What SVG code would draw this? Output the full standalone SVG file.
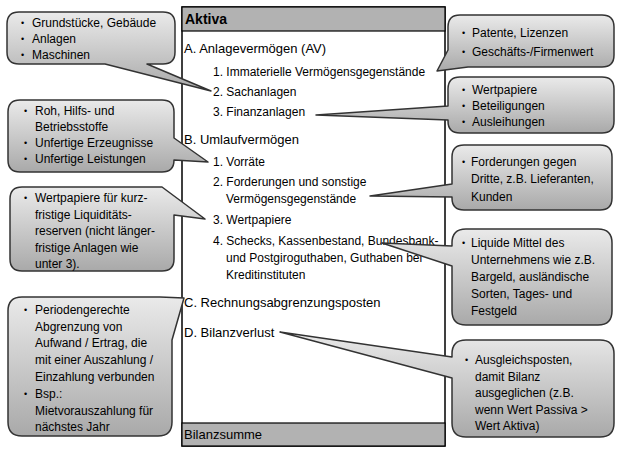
<svg xmlns="http://www.w3.org/2000/svg" width="620" height="450" viewBox="0 0 620 450">
<defs>
<linearGradient id="g" x1="0" y1="0" x2="0" y2="1">
<stop offset="0" stop-color="#eaeaea"/>
<stop offset="1" stop-color="#a9a9a9"/>
</linearGradient>
<style>
text{font-family:"Liberation Sans",Arial,sans-serif;fill:#000}
.t{font-size:12px}
.h{font-size:13px}
.b{font-size:9px}
.co{fill:url(#g);stroke:#333;stroke-width:1.5;stroke-linejoin:round}
.bar{fill:#b2b2b2;stroke:#000;stroke-width:1.2}
</style>
</defs>
<rect width="620" height="450" fill="#fff"/>
<g id="aktiva">
<rect x="182" y="7" width="263" height="439" fill="#fff" stroke="#000" stroke-width="1.5"/>
<rect class="bar" x="182" y="7" width="263" height="24"/>
<rect class="bar" x="182" y="423" width="263" height="23"/>
<text x="185" y="24" style="font-size:14px;font-weight:bold">Aktiva</text>
<text class="h" x="184" y="53">A. Anlagevermögen (AV)</text>
<text class="t" x="213" y="76">1. Immaterielle Vermögensgegenstände</text>
<text class="t" x="213" y="96">2. Sachanlagen</text>
<text class="t" x="213" y="116">3. Finanzanlagen</text>
<text class="h" x="184" y="144">B. Umlaufvermögen</text>
<text class="t" x="213" y="166">1. Vorräte</text>
<text class="t" x="213" y="186">2. Forderungen und sonstige</text>
<text class="t" x="226" y="203">Vermögensgegenstände</text>
<text class="t" x="213" y="224">3. Wertpapiere</text>
<text class="t" x="213" y="245">4. Schecks, Kassenbestand, Bundesbank-</text>
<text class="t" x="226" y="262">und Postgiroguthaben, Guthaben bei</text>
<text class="t" x="226" y="279">Kreditinstituten</text>
<text class="h" x="184" y="307">C. Rechnungsabgrenzungsposten</text>
<text class="h" x="184" y="337">D. Bilanzverlust</text>
<text class="h" x="184" y="439">Bilanzsumme</text>
</g>
<g id="c-sachanlagen">
<path class="co" d="M19,12 H163 Q175,12 175,24 V52 Q175,64 163,64 H147 L211,91 L105,64 H19 Q7,64 7,52 V24 Q7,12 19,12 Z"/>
<text class="b" x="21" y="26">•</text><text class="t" x="32" y="27">Grundstücke, Gebäude</text>
<text class="b" x="21" y="42">•</text><text class="t" x="32" y="43">Anlagen</text>
<text class="b" x="21" y="58">•</text><text class="t" x="32" y="59">Maschinen</text>
</g>
<g id="c-immateriell">
<path class="co" d="M460,15 H602 Q614,15 614,27 V55 Q614,67 602,67 H468 L437,71 L448,50 V27 Q448,15 460,15 Z"/>
<text class="b" x="462" y="36">•</text><text class="t" x="472" y="37">Patente, Lizenzen</text>
<text class="b" x="462" y="55">•</text><text class="t" x="472" y="56">Geschäfts-/Firmenwert</text>
</g>
<g id="c-finanz">
<path class="co" d="M460,77 H602 Q614,77 614,89 V121 Q614,133 602,133 H460 Q448,133 448,121 V120 L316,115 L448,106 V89 Q448,77 460,77 Z"/>
<text class="b" x="462" y="93">•</text><text class="t" x="472" y="94">Wertpapiere</text>
<text class="b" x="462" y="109">•</text><text class="t" x="472" y="110">Beteiligungen</text>
<text class="b" x="462" y="125">•</text><text class="t" x="472" y="126">Ausleihungen</text>
</g>
<g id="c-vorraete">
<path class="co" d="M20,100 H162 Q174,100 174,112 V138 L208,162 L174,160 Q174,172 162,172 H20 Q8,172 8,160 V112 Q8,100 20,100 Z"/>
<text class="b" x="24" y="114">•</text><text class="t" x="35" y="115">Roh, Hilfs- und</text>
<text class="t" x="35" y="131">Betriebsstoffe</text>
<text class="b" x="24" y="146">•</text><text class="t" x="35" y="147">Unfertige Erzeugnisse</text>
<text class="b" x="24" y="162">•</text><text class="t" x="35" y="163">Unfertige Leistungen</text>
</g>
<g id="c-wertpapiere">
<path class="co" d="M22,187 H162 L205,219 L174,215 V259 Q174,271 162,271 H22 Q10,271 10,259 V199 Q10,187 22,187 Z"/>
<text class="b" x="24" y="201">•</text><text class="t" x="35" y="202">Wertpapiere für kurz-</text>
<text class="t" x="35" y="219">fristige Liquiditäts-</text>
<text class="t" x="35" y="235">reserven (nicht länger-</text>
<text class="t" x="35" y="252">fristige Anlagen wie</text>
<text class="t" x="35" y="268">unter 3).</text>
</g>
<g id="c-rap">
<path class="co" d="M22,297 H160 L184,298 L172,340 V422 Q172,436 158,436 H22 Q8,436 8,422 V311 Q8,297 22,297 Z"/>
<text class="b" x="24" y="313">•</text><text class="t" x="35" y="314">Periodengerechte</text>
<text class="t" x="35" y="331">Abgrenzung von</text>
<text class="t" x="35" y="347">Aufwand / Ertrag, die</text>
<text class="t" x="35" y="364">mit einer Auszahlung /</text>
<text class="t" x="35" y="381">Einzahlung verbunden</text>
<text class="b" x="24" y="397">•</text><text class="t" x="35" y="398">Bsp.:</text>
<text class="t" x="35" y="415">Mietvorauszahlung für</text>
<text class="t" x="35" y="431">nächstes Jahr</text>
</g>
<g id="c-forderungen">
<path class="co" d="M464,145 H600 Q612,145 612,157 V198 Q612,210 600,210 H464 Q452,210 452,198 V197 L370,196 L452,184 V157 Q452,145 464,145 Z"/>
<text class="b" x="462" y="165">•</text><text class="t" x="471" y="166">Forderungen gegen</text>
<text class="t" x="471" y="183">Dritte, z.B. Lieferanten,</text>
<text class="t" x="471" y="201">Kunden</text>
</g>
<g id="c-liquide">
<path class="co" d="M466,229 H598 Q612,229 612,243 V311 Q612,325 598,325 H466 Q452,325 452,311 V266 L382,243 L452,246 V243 Q452,229 466,229 Z"/>
<text class="b" x="462" y="246">•</text><text class="t" x="471" y="247">Liquide Mittel des</text>
<text class="t" x="471" y="264">Unternehmens wie z.B.</text>
<text class="t" x="471" y="281">Bargeld, ausländische</text>
<text class="t" x="471" y="298">Sorten, Tages- und</text>
<text class="t" x="471" y="315">Festgeld</text>
</g>
<g id="c-verlust">
<path class="co" d="M466,340 H600 Q614,340 614,354 V423 Q614,437 600,437 H466 Q452,437 452,423 V378 L280,332 L452,357 V354 Q452,340 466,340 Z"/>
<text class="b" x="465" y="363">•</text><text class="t" x="475" y="364">Ausgleichsposten,</text>
<text class="t" x="475" y="381">damit Bilanz</text>
<text class="t" x="475" y="397">ausgeglichen (z.B.</text>
<text class="t" x="475" y="414">wenn Wert Passiva &gt;</text>
<text class="t" x="475" y="430">Wert Aktiva)</text>
</g>
</svg>
